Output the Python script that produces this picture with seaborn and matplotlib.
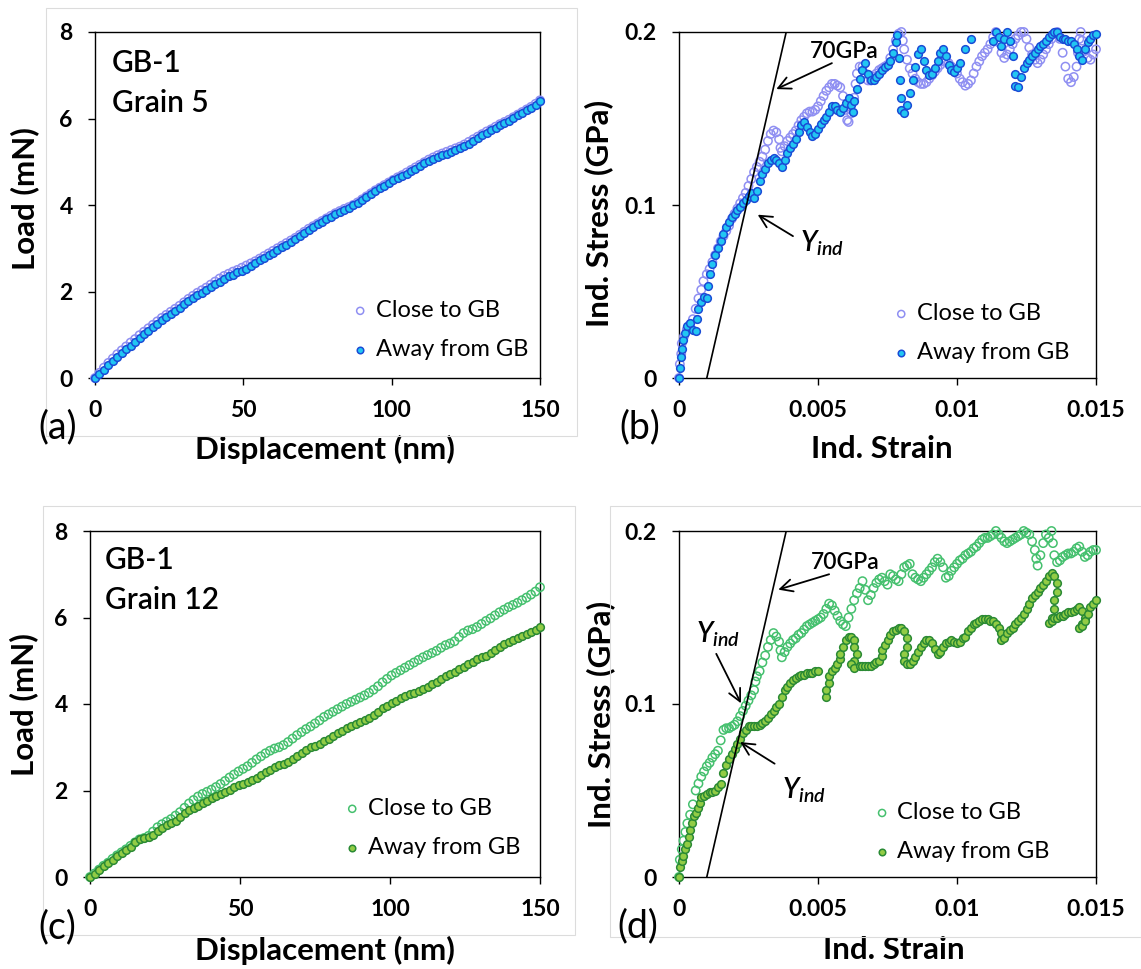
import matplotlib
matplotlib.use("Agg")
import matplotlib.pyplot as plt
import seaborn as sns
from matplotlib.patches import Rectangle

# ---------------- data ----------------
disp = [0, 1.5, 3, 4.5, 6, 7.5, 9, 10.5, 12, 13.5,
        15, 16.5, 18, 19.5, 21, 22.5, 24, 25.5, 27, 28.5,
        30, 31.5, 33, 34.5, 36, 37.5, 39, 40.5, 42, 43.5,
        45, 46.5, 48, 49.5, 51, 52.5, 54, 55.5, 57, 58.5,
        60, 61.5, 63, 64.5, 66, 67.5, 69, 70.5, 72, 73.5,
        75, 76.5, 78, 79.5, 81, 82.5, 84, 85.5, 87, 88.5,
        90, 91.5, 93, 94.5, 96, 97.5, 99, 100.5, 102, 103.5,
        105, 106.5, 108, 109.5, 111, 112.5, 114, 115.5, 117, 118.5,
        120, 121.5, 123, 124.5, 126, 127.5, 129, 130.5, 132, 133.5,
        135, 136.5, 138, 139.5, 141, 142.5, 144, 145.5, 147, 148.5,
        150]

load_a_close = [0.00, 0.12, 0.24, 0.35, 0.45, 0.55, 0.64, 0.73, 0.82, 0.90,
                0.99, 1.07, 1.15, 1.23, 1.31, 1.39, 1.46, 1.53, 1.60, 1.67,
                1.75, 1.83, 1.90, 1.97, 2.03, 2.09, 2.16, 2.23, 2.30, 2.36,
                2.41, 2.46, 2.50, 2.55, 2.60, 2.65, 2.70, 2.76, 2.82, 2.88,
                2.94, 3.00, 3.06, 3.12, 3.18, 3.24, 3.31, 3.38, 3.45, 3.51,
                3.57, 3.63, 3.69, 3.75, 3.81, 3.86, 3.91, 3.95, 4.00, 4.06,
                4.13, 4.20, 4.27, 4.34, 4.40, 4.46, 4.52, 4.58, 4.64, 4.69,
                4.75, 4.81, 4.87, 4.93, 4.99, 5.05, 5.10, 5.15, 5.19, 5.23,
                5.27, 5.31, 5.35, 5.40, 5.46, 5.52, 5.58, 5.64, 5.70, 5.75,
                5.81, 5.87, 5.92, 5.97, 6.03, 6.09, 6.15, 6.21, 6.27, 6.34,
                6.42]
load_a_away = [0.00, 0.09, 0.19, 0.29, 0.39, 0.48, 0.58, 0.67, 0.75, 0.84,
               0.93, 1.01, 1.09, 1.17, 1.25, 1.33, 1.41, 1.48, 1.55, 1.62,
               1.70, 1.77, 1.84, 1.91, 1.97, 2.04, 2.10, 2.17, 2.23, 2.29,
               2.35, 2.39, 2.44, 2.48, 2.53, 2.58, 2.65, 2.72, 2.78, 2.84,
               2.90, 2.96, 3.02, 3.08, 3.15, 3.21, 3.28, 3.35, 3.42, 3.49,
               3.55, 3.61, 3.67, 3.73, 3.79, 3.84, 3.89, 3.94, 3.99, 4.05,
               4.12, 4.19, 4.26, 4.33, 4.39, 4.45, 4.51, 4.57, 4.62, 4.67,
               4.72, 4.78, 4.84, 4.90, 4.96, 5.01, 5.06, 5.11, 5.15, 5.19,
               5.23, 5.27, 5.31, 5.36, 5.42, 5.48, 5.55, 5.61, 5.67, 5.73,
               5.79, 5.85, 5.90, 5.95, 6.01, 6.07, 6.13, 6.19, 6.25, 6.32,
               6.40]
load_c_close = [0.00, 0.08, 0.17, 0.26, 0.33, 0.42, 0.50, 0.57, 0.64, 0.72,
                0.80, 0.87, 0.90, 0.95, 1.05, 1.15, 1.22, 1.28, 1.34, 1.42,
                1.50, 1.60, 1.70, 1.78, 1.86, 1.92, 1.97, 2.02, 2.08, 2.15,
                2.22, 2.30, 2.37, 2.44, 2.50, 2.56, 2.64, 2.72, 2.79, 2.86,
                2.92, 2.97, 3.00, 3.05, 3.12, 3.20, 3.28, 3.35, 3.42, 3.48,
                3.55, 3.62, 3.70, 3.76, 3.82, 3.88, 3.94, 4.00, 4.05, 4.10,
                4.15, 4.20, 4.26, 4.33, 4.41, 4.50, 4.58, 4.66, 4.72, 4.78,
                4.84, 4.90, 4.96, 5.02, 5.08, 5.13, 5.18, 5.23, 5.30, 5.36,
                5.40, 5.45, 5.55, 5.64, 5.70, 5.73, 5.78, 5.85, 5.92, 5.98,
                6.05, 6.12, 6.18, 6.24, 6.29, 6.34, 6.40, 6.46, 6.53, 6.60,
                6.70]
load_c_away = [0.00, 0.08, 0.17, 0.25, 0.33, 0.40, 0.48, 0.55, 0.62, 0.70,
               0.80, 0.87, 0.90, 0.93, 0.98, 1.06, 1.13, 1.20, 1.25, 1.30,
               1.38, 1.47, 1.55, 1.60, 1.64, 1.70, 1.76, 1.82, 1.87, 1.92,
               1.96, 2.02, 2.07, 2.12, 2.16, 2.20, 2.25, 2.30, 2.36, 2.42,
               2.48, 2.54, 2.58, 2.62, 2.66, 2.72, 2.80, 2.87, 2.94, 3.00,
               3.04, 3.08, 3.14, 3.20, 3.26, 3.32, 3.38, 3.44, 3.50, 3.54,
               3.58, 3.62, 3.68, 3.75, 3.82, 3.90, 3.96, 4.02, 4.08, 4.13,
               4.18, 4.22, 4.26, 4.30, 4.35, 4.40, 4.46, 4.52, 4.58, 4.64,
               4.70, 4.75, 4.80, 4.86, 4.92, 4.98, 5.04, 5.08, 5.12, 5.18,
               5.25, 5.32, 5.38, 5.43, 5.48, 5.52, 5.57, 5.62, 5.67, 5.72,
               5.77]

strain_b_close = [0, 0.00003, 0.00008, 0.0001, 0.00018, 0.00028, 0.0004, 0.0005, 0.0006, 0.0007,
                  0.0008, 0.00088, 0.001, 0.0011, 0.0012, 0.0013, 0.0014, 0.0015, 0.0016, 0.0017,
                  0.0018, 0.0019, 0.002, 0.0021, 0.0022, 0.0023, 0.0024, 0.0025, 0.0026, 0.0027,
                  0.0028, 0.0029, 0.003, 0.0031, 0.0032, 0.0033, 0.0034, 0.0035, 0.0036, 0.00365,
                  0.0037, 0.0038, 0.0039, 0.004, 0.0041, 0.0042, 0.0043, 0.0044, 0.0045, 0.0046,
                  0.0047, 0.0048, 0.0049, 0.005, 0.0051, 0.0052, 0.0053, 0.0054, 0.0055, 0.0056,
                  0.0057, 0.0058, 0.0059, 0.006, 0.00605, 0.0061, 0.0062, 0.0063, 0.00635, 0.0064,
                  0.0065, 0.0066, 0.0067, 0.0068, 0.0069, 0.007, 0.0071, 0.0072, 0.0073, 0.0074,
                  0.0075, 0.0076, 0.0077, 0.0078, 0.0079, 0.008, 0.00805, 0.0081, 0.0082, 0.0083,
                  0.0084, 0.0085, 0.0086, 0.0087, 0.0088, 0.0089, 0.009, 0.0091, 0.0092, 0.0093,
                  0.0094, 0.0095, 0.0096, 0.0097, 0.0098, 0.0099, 0.01, 0.0101, 0.0102, 0.0103,
                  0.0104, 0.0105, 0.0106, 0.0107, 0.0108, 0.0109, 0.011, 0.0111, 0.0112, 0.0113,
                  0.0114, 0.0115, 0.0116, 0.0117, 0.0118, 0.0119, 0.012, 0.0121, 0.0122, 0.0123,
                  0.0124, 0.0125, 0.0126, 0.0127, 0.0128, 0.0129, 0.013, 0.0131, 0.0132, 0.0133,
                  0.0134, 0.0135, 0.0136, 0.0137, 0.0138, 0.0139, 0.014, 0.0141, 0.0142, 0.0143,
                  0.01435, 0.0144, 0.01445, 0.0145, 0.0146, 0.0147, 0.0148, 0.0149, 0.015]
stress_b_close = [0, 0.008, 0.014, 0.02, 0.024, 0.028, 0.031, 0.034, 0.04, 0.046,
                  0.051, 0.056, 0.06, 0.063, 0.067, 0.071, 0.075, 0.079, 0.082, 0.085,
                  0.088, 0.092, 0.095, 0.098, 0.101, 0.104, 0.107, 0.111, 0.115, 0.119,
                  0.122, 0.125, 0.128, 0.132, 0.137, 0.141, 0.143, 0.142, 0.138, 0.133,
                  0.131, 0.134, 0.137, 0.139, 0.141, 0.143, 0.146, 0.149, 0.151, 0.153,
                  0.154, 0.154, 0.155, 0.157, 0.16, 0.163, 0.166, 0.168, 0.17, 0.17,
                  0.169, 0.168, 0.163, 0.155, 0.149, 0.148, 0.153, 0.162, 0.17, 0.176,
                  0.18, 0.18, 0.176, 0.172, 0.172, 0.174, 0.176, 0.178, 0.179, 0.18,
                  0.181, 0.185, 0.19, 0.195, 0.199, 0.2, 0.195, 0.19, 0.184, 0.179,
                  0.176, 0.173, 0.171, 0.17, 0.17, 0.171, 0.173, 0.175, 0.177, 0.179,
                  0.181, 0.183, 0.183, 0.182, 0.18, 0.178, 0.176, 0.173, 0.171, 0.169,
                  0.17, 0.172, 0.176, 0.18, 0.183, 0.186, 0.188, 0.19, 0.193, 0.197,
                  0.2, 0.194, 0.188, 0.185, 0.187, 0.19, 0.193, 0.196, 0.198, 0.2,
                  0.2, 0.196, 0.191, 0.187, 0.184, 0.182, 0.184, 0.187, 0.19, 0.193,
                  0.196, 0.199, 0.2, 0.196, 0.188, 0.18, 0.173, 0.171, 0.174, 0.18,
                  0.188, 0.196, 0.2, 0.195, 0.189, 0.185, 0.184, 0.187, 0.19]

strain_b_away = [0, 0.00003, 0.00006, 0.0001, 0.00015, 0.00022, 0.0003, 0.0004, 0.0005, 0.0006,
                 0.00065, 0.0007, 0.0008, 0.0009, 0.001, 0.00105, 0.0011, 0.0012, 0.0013, 0.0014,
                 0.0015, 0.0016, 0.0017, 0.0018, 0.0019, 0.002, 0.0021, 0.0022, 0.0023, 0.0024,
                 0.0025, 0.0026, 0.0027, 0.0028, 0.0029, 0.003, 0.0031, 0.0032, 0.0033, 0.0034,
                 0.0035, 0.0036, 0.0037, 0.0038, 0.0039, 0.004, 0.0041, 0.0042, 0.0043, 0.0044,
                 0.0045, 0.0046, 0.0047, 0.0048, 0.0049, 0.005, 0.0051, 0.0052, 0.0053, 0.0054,
                 0.0055, 0.0056, 0.0057, 0.0058, 0.0059, 0.006, 0.0061, 0.0062, 0.00625, 0.0063,
                 0.0064, 0.0065, 0.0066, 0.0067, 0.0068, 0.0069, 0.007, 0.0071, 0.0072, 0.0073,
                 0.0074, 0.0075, 0.0076, 0.0077, 0.0078, 0.00785, 0.0079, 0.00795, 0.008, 0.0080,
                 0.0081, 0.0082, 0.0083, 0.0084, 0.0085, 0.0086, 0.0087, 0.0088, 0.0089, 0.009,
                 0.0091, 0.0092, 0.0093, 0.0094, 0.0095, 0.0096, 0.0097, 0.0098, 0.0099, 0.01,
                 0.0101, 0.0103, 0.0105, 0.0113, 0.0114, 0.0115, 0.0116, 0.0117, 0.0118, 0.0119,
                 0.012, 0.0121, 0.0121, 0.0122, 0.0123, 0.0124, 0.0125, 0.0126, 0.0127, 0.0128,
                 0.0129, 0.013, 0.0131, 0.0132, 0.0133, 0.0134, 0.0135, 0.0136, 0.0137, 0.0138,
                 0.0139, 0.014, 0.0141, 0.0142, 0.0143, 0.0144, 0.0145, 0.0146, 0.0147, 0.0148,
                 0.0149, 0.015]
stress_b_away = [0, 0.006, 0.012, 0.017, 0.022, 0.026, 0.03, 0.032, 0.028, 0.027,
                 0.034, 0.04, 0.044, 0.047, 0.046, 0.053, 0.06, 0.066, 0.071, 0.075,
                 0.079, 0.083, 0.087, 0.09, 0.093, 0.095, 0.097, 0.099, 0.101, 0.103,
                 0.105, 0.107, 0.104, 0.108, 0.114, 0.118, 0.121, 0.124, 0.126, 0.127,
                 0.126, 0.124, 0.122, 0.126, 0.13, 0.133, 0.135, 0.138, 0.142, 0.146,
                 0.148, 0.145, 0.142, 0.14, 0.141, 0.144, 0.147, 0.149, 0.151, 0.154,
                 0.157, 0.157, 0.155, 0.154, 0.156, 0.159, 0.162, 0.158, 0.154, 0.16,
                 0.167, 0.173, 0.178, 0.182, 0.176, 0.172, 0.172, 0.174, 0.176, 0.178,
                 0.18, 0.181, 0.183, 0.188, 0.194, 0.198, 0.185, 0.172, 0.162, 0.155,
                 0.153, 0.158, 0.165, 0.172, 0.18, 0.187, 0.19, 0.183, 0.178, 0.175,
                 0.176, 0.179, 0.183, 0.188, 0.19, 0.186, 0.181, 0.178, 0.177, 0.179,
                 0.182, 0.19, 0.196, 0.195, 0.2, 0.197, 0.192, 0.196, 0.2, 0.195,
                 0.186, 0.176, 0.169, 0.168, 0.174, 0.179, 0.182, 0.184, 0.186, 0.188,
                 0.19, 0.192, 0.193, 0.195, 0.197, 0.199, 0.2, 0.2, 0.197, 0.196,
                 0.196, 0.195, 0.195, 0.193, 0.19, 0.186, 0.184, 0.19, 0.194, 0.196,
                 0.198, 0.199]

strain_d_close = [0, 0.00003, 0.0001, 0.00016, 0.00023, 0.0003, 0.0004, 0.0005, 0.0006, 0.0007,
                  0.0008, 0.0009, 0.001, 0.0011, 0.0012, 0.0013, 0.0014, 0.0015, 0.0016, 0.0017,
                  0.0018, 0.0019, 0.002, 0.0021, 0.0022, 0.0023, 0.0024, 0.0025, 0.0026, 0.0027,
                  0.00275, 0.0028, 0.0029, 0.003, 0.0031, 0.0032, 0.0033, 0.0034, 0.0035, 0.0036,
                  0.00365, 0.0037, 0.0038, 0.0039, 0.004, 0.0041, 0.0042, 0.0043, 0.0044, 0.0045,
                  0.0046, 0.0047, 0.0048, 0.0049, 0.005, 0.0051, 0.0052, 0.0053, 0.0054, 0.0055,
                  0.0056, 0.0057, 0.0058, 0.0059, 0.006, 0.0061, 0.0062, 0.0063, 0.0064, 0.0065,
                  0.0066, 0.0067, 0.0068, 0.0069, 0.007, 0.0071, 0.0072, 0.0073, 0.0074, 0.0075,
                  0.0076, 0.0077, 0.0078, 0.0079, 0.008, 0.0081, 0.0082, 0.0083, 0.0084, 0.0085,
                  0.0086, 0.0087, 0.0088, 0.0089, 0.009, 0.0091, 0.0092, 0.0093, 0.0094, 0.0095,
                  0.0096, 0.0097, 0.0098, 0.0099, 0.01, 0.0101, 0.0102, 0.0103, 0.0104, 0.0105,
                  0.0106, 0.0107, 0.0108, 0.0109, 0.011, 0.0111, 0.0112, 0.0113, 0.0114, 0.0115,
                  0.0116, 0.0117, 0.0118, 0.0119, 0.012, 0.0121, 0.0122, 0.0123, 0.0124, 0.0125,
                  0.0126, 0.0127, 0.0128, 0.01285, 0.0129, 0.013, 0.0131, 0.0132, 0.0133, 0.0134,
                  0.01345, 0.0135, 0.0136, 0.0137, 0.0138, 0.0139, 0.014, 0.0141, 0.0142, 0.0143,
                  0.0144, 0.0145, 0.0146, 0.0147, 0.0148, 0.0149, 0.015]
stress_d_close = [0, 0.01, 0.016, 0.021, 0.026, 0.031, 0.036, 0.042, 0.05, 0.054,
                  0.058, 0.061, 0.064, 0.066, 0.069, 0.071, 0.073, 0.079, 0.085, 0.086,
                  0.086, 0.087, 0.088, 0.09, 0.093, 0.096, 0.099, 0.102, 0.105, 0.108,
                  0.113, 0.116, 0.119, 0.124, 0.128, 0.133, 0.137, 0.141, 0.139, 0.136,
                  0.131, 0.127, 0.13, 0.133, 0.135, 0.137, 0.138, 0.14, 0.141, 0.143,
                  0.145, 0.146, 0.147, 0.148, 0.149, 0.15, 0.152, 0.155, 0.158, 0.157,
                  0.154, 0.151, 0.148, 0.146, 0.145, 0.15, 0.155, 0.16, 0.164, 0.167,
                  0.171, 0.166, 0.16, 0.163, 0.167, 0.17, 0.172, 0.173, 0.171, 0.169,
                  0.175, 0.174, 0.172, 0.171, 0.175, 0.179, 0.18, 0.181, 0.175, 0.173,
                  0.172, 0.171, 0.173, 0.175, 0.177, 0.179, 0.182, 0.184, 0.182, 0.179,
                  0.173, 0.174, 0.177, 0.179, 0.181, 0.183, 0.184, 0.186, 0.187, 0.188,
                  0.19, 0.191, 0.193, 0.195, 0.196, 0.196, 0.197, 0.198, 0.2, 0.198,
                  0.196, 0.194, 0.193, 0.194, 0.195, 0.196, 0.197, 0.198, 0.2, 0.199,
                  0.198, 0.194, 0.189, 0.184, 0.18, 0.186, 0.193, 0.198, 0.196, 0.2,
                  0.193, 0.186, 0.182, 0.183, 0.185, 0.186, 0.187, 0.187, 0.188, 0.19,
                  0.191, 0.188, 0.185, 0.186, 0.188, 0.189, 0.189]

strain_d_away = [0, 0.00003, 0.0001, 0.00016, 0.00023, 0.0003, 0.00035, 0.0004, 0.00048, 0.00055,
                 0.0006, 0.0007, 0.00075, 0.0008, 0.0009, 0.001, 0.0011, 0.0012, 0.0013, 0.0014,
                 0.0015, 0.0016, 0.0017, 0.0018, 0.0019, 0.002, 0.0021, 0.0022, 0.0023, 0.0024,
                 0.0025, 0.0026, 0.0027, 0.0028, 0.0029, 0.003, 0.0031, 0.0032, 0.0033, 0.0034,
                 0.0035, 0.0036, 0.0037, 0.0038, 0.0039, 0.004, 0.0041, 0.0042, 0.0043, 0.0044,
                 0.0045, 0.0046, 0.0047, 0.0048, 0.0049, 0.005,
                 0.0053, 0.0053, 0.0054, 0.0054, 0.0055, 0.0056, 0.0057, 0.0058, 0.0058, 0.0059,
                 0.006, 0.0061, 0.0062, 0.0063, 0.0063, 0.0064, 0.0063, 0.0062, 0.0063, 0.0065,
                 0.0066, 0.0067, 0.0068, 0.0069, 0.007, 0.0071, 0.0072, 0.0073, 0.0073, 0.0074,
                 0.0075, 0.0076, 0.0077, 0.0078, 0.0079, 0.008, 0.0081, 0.0082, 0.0082, 0.0081,
                 0.0081, 0.0082, 0.0083, 0.0084, 0.0085, 0.0086, 0.0087, 0.0088, 0.0089, 0.009,
                 0.0091, 0.0092, 0.0093, 0.0094, 0.0095, 0.0096, 0.0097, 0.0098, 0.0099, 0.01,
                 0.0101, 0.0102, 0.0103, 0.0104, 0.0105, 0.0106, 0.0107, 0.0108, 0.0109, 0.011,
                 0.0111, 0.0112, 0.0113, 0.0114, 0.0115, 0.0116, 0.0116, 0.0117, 0.0118, 0.0119,
                 0.012, 0.0121, 0.0122, 0.0123, 0.0124, 0.0125, 0.0126, 0.0127, 0.0128, 0.0129,
                 0.013, 0.0131, 0.0132, 0.0133, 0.0134, 0.0135, 0.0136, 0.0136, 0.0135, 0.0135,
                 0.0134, 0.0133, 0.0134, 0.0135, 0.0136, 0.0137, 0.0138, 0.0139, 0.014, 0.0141,
                 0.0142, 0.0143, 0.0144, 0.0145, 0.0146, 0.0145, 0.0144, 0.0145, 0.0146, 0.0147,
                 0.0148, 0.0149, 0.015]
stress_d_away = [0, 0.006, 0.009, 0.012, 0.016, 0.019, 0.023, 0.027, 0.031, 0.035,
                 0.037, 0.04, 0.043, 0.046, 0.047, 0.048, 0.049, 0.049, 0.05, 0.052,
                 0.054, 0.06, 0.065, 0.068, 0.071, 0.074, 0.077, 0.08, 0.083, 0.085,
                 0.087, 0.087, 0.087, 0.087, 0.088, 0.089, 0.09, 0.092, 0.094, 0.096,
                 0.098, 0.1, 0.104, 0.108, 0.11, 0.112, 0.114, 0.115, 0.116, 0.117,
                 0.117, 0.118, 0.118, 0.118, 0.119, 0.119,
                 0.104, 0.108, 0.112, 0.116, 0.119, 0.121, 0.123, 0.126, 0.129, 0.133,
                 0.137, 0.139, 0.139, 0.137, 0.133, 0.129, 0.125, 0.123, 0.121, 0.122,
                 0.122, 0.122, 0.122, 0.122, 0.123, 0.124, 0.125, 0.128, 0.131, 0.134,
                 0.137, 0.14, 0.142, 0.143, 0.144, 0.144, 0.142, 0.138, 0.133, 0.129,
                 0.125, 0.123, 0.123, 0.125, 0.127, 0.13, 0.133, 0.135, 0.137, 0.137,
                 0.135, 0.132, 0.129, 0.13, 0.133, 0.135, 0.136, 0.137, 0.136, 0.135,
                 0.136, 0.138, 0.139, 0.142, 0.144, 0.146, 0.147, 0.148, 0.149, 0.149,
                 0.149, 0.148, 0.148, 0.146, 0.144, 0.141, 0.137, 0.138, 0.141, 0.143,
                 0.144, 0.146, 0.148, 0.15, 0.152, 0.155, 0.158, 0.161, 0.163, 0.165,
                 0.167, 0.169, 0.171, 0.174, 0.176, 0.174, 0.17, 0.165, 0.16, 0.155,
                 0.15, 0.147, 0.148, 0.15, 0.15, 0.151, 0.151, 0.152, 0.153, 0.153,
                 0.154, 0.155, 0.156, 0.154, 0.15, 0.146, 0.144, 0.145, 0.148, 0.152,
                 0.156, 0.158, 0.16]

# elastic reference line (modulus in GPa, strain offset)
modulus_GPa = 70
line_offset = 0.001

series_labels = ["Close to GB", "Away from GB"]
load_ticks = [0, 2, 4, 6, 8]
load_ticklabels = ["0", "2", "4", "6", "8"]
disp_ticks = [0, 50, 100, 150]
disp_ticklabels = ["0", "50", "100", "150"]
strain_ticks = [0, 0.005, 0.01, 0.015]
strain_ticklabels = ["0", "0.005", "0.01", "0.015"]
stress_ticks = [0, 0.1, 0.2]
stress_ticklabels = ["0", "0.1", "0.2"]

# ---------------- style ----------------
sns.set_theme(style="white")
plt.rcParams["font.family"] = ["Lato", "DejaVu Sans"]
plt.rcParams["text.color"] = "black"
plt.rcParams["axes.labelcolor"] = "black"
plt.rcParams["mathtext.fontset"] = "custom"
plt.rcParams["mathtext.it"] = "Lato:italic:semibold"
plt.rcParams["mathtext.rm"] = "Lato"
plt.rcParams["mathtext.bf"] = "Lato:bold"

W, H = 1141, 969
fig = plt.figure(figsize=(W / 100, H / 100), dpi=100, facecolor="white")

# faint panel frames
for (l, t, r, b) in [(46, 8, 577, 436), (43, 506, 575, 935), (610, 506, 1141, 937)]:
    fig.patches.append(Rectangle((l / W, 1 - b / H), (r - l) / W, (b - t) / H,
                                 transform=fig.transFigure, fill=False,
                                 edgecolor="#dcdcdc", linewidth=0.8))


def add_ax(l, t, r, b):
    return fig.add_axes([l / W, 1 - b / H, (r - l) / W, (b - t) / H])


ax_a = add_ax(95, 32, 540, 378)
ax_b = add_ax(679, 32, 1096, 378)
ax_c = add_ax(90, 531, 540, 877)
ax_d = add_ax(679, 531, 1096, 877)

blue_close = "#8f8ff2"
blue_face = "#22c6f2"
blue_edge = "#1a4bd6"
green_close = "#45c06e"
green_face = "#92cc45"
green_edge = "#2a8a34"


def scatter_pair(ax, x1, y1, x2, y2, c_close, f_away, e_away, s):
    sns.scatterplot(x=x1, y=y1, ax=ax, marker="o", s=s, color=c_close,
                    facecolor="none", edgecolor=c_close, linewidth=1.1,
                    label=series_labels[0], clip_on=False, zorder=3)
    sns.scatterplot(x=x2, y=y2, ax=ax, marker="o", s=s * 0.85, color=f_away,
                    facecolor=f_away, edgecolor=e_away, linewidth=1.1,
                    label=series_labels[1], clip_on=False, zorder=4)


scatter_pair(ax_a, disp, load_a_close, disp, load_a_away, blue_close, blue_face, blue_edge, 36)
scatter_pair(ax_b, strain_b_close, stress_b_close, strain_b_away, stress_b_away,
             blue_close, blue_face, blue_edge, 36)
scatter_pair(ax_c, disp, load_c_close, disp, load_c_away, green_close, green_face, green_edge, 36)
scatter_pair(ax_d, strain_d_close, stress_d_close, strain_d_away, stress_d_away,
             green_close, green_face, green_edge, 36)

# elastic 70 GPa lines
for ax in (ax_b, ax_d):
    ax.plot([line_offset, line_offset + 0.2 / modulus_GPa], [0, 0.2],
            color="black", linewidth=1.2, zorder=5)


def style_axis(ax, xt, xtl, yt, ytl, xlim, ylim, xlabel, ylabel, xl_pos, yl_pos, leg_pos):
    ax.set_xlim(*xlim)
    ax.set_ylim(*ylim)
    ax.set_xticks(xt)
    ax.set_xticklabels(xtl, fontweight="bold")
    ax.set_yticks(yt)
    ax.set_yticklabels(ytl, fontweight="bold")
    ax.tick_params(axis="both", which="both", direction="out", length=5, width=1.0,
                   color="black", labelcolor="black", labelsize=16.5, pad=11,
                   bottom=True, left=True, top=False, right=False)
    for sp in ax.spines.values():
        sp.set_visible(True)
        sp.set_color("black")
        sp.set_linewidth(1.0)
    ax.set_xlabel(xlabel, fontsize=22.5, fontweight="bold", color="black")
    ax.set_ylabel(ylabel, fontsize=22.5, fontweight="bold", color="black")
    ax.xaxis.set_label_coords(*xl_pos)
    ax.yaxis.set_label_coords(*yl_pos)
    ax.grid(False)
    leg = ax.legend(loc="center left", bbox_to_anchor=leg_pos, frameon=False,
                    fontsize=17, handlelength=0.6, handletextpad=0.35,
                    labelspacing=0.75, borderpad=0, borderaxespad=0,
                    markerscale=0.85)
    for t in leg.get_texts():
        t.set_color("black")


style_axis(ax_a, disp_ticks, disp_ticklabels, load_ticks, load_ticklabels,
           (0, 150), (0, 8), "Displacement (nm)", "Load (mN)",
           (0.517, -0.165), (-0.125, 0.52), (0.58, 0.139))
style_axis(ax_b, strain_ticks, strain_ticklabels, stress_ticks, stress_ticklabels,
           (0, 0.015), (0, 0.2), "Ind. Strain", "Ind. Stress (GPa)",
           (0.487, -0.165), (-0.158, 0.477), (0.516, 0.130))
style_axis(ax_c, disp_ticks, disp_ticklabels, load_ticks, load_ticklabels,
           (0, 150), (0, 8), "Displacement (nm)", "Load (mN)",
           (0.522, -0.17), (-0.115, 0.497), (0.567, 0.142))
style_axis(ax_d, strain_ticks, strain_ticklabels, stress_ticks, stress_ticklabels,
           (0, 0.015), (0, 0.2), "Ind. Strain", "Ind. Stress (GPa)",
           (0.516, -0.17), (-0.153, 0.471), (0.47, 0.130))

# sample annotations
for ax, (x0, y1, y2), grain in [(ax_a, (0.038, 0.91, 0.795), "Grain 5"),
                                (ax_c, (0.033, 0.916, 0.80), "Grain 12")]:
    ax.text(x0, y1, "GB-1", transform=ax.transAxes, fontsize=21.5, fontweight="semibold",
            ha="left", va="center")
    ax.text(x0, y2, grain, transform=ax.transAxes, fontsize=21.5, fontweight="semibold",
            ha="left", va="center")

arrow_kw = dict(arrowstyle="->", color="black", lw=1.3, shrinkA=0, shrinkB=0,
                mutation_scale=22)

# panel (b)
ax_b.text(0.00595, 0.189, "70GPa", fontsize=16.5, fontweight="semibold",
          ha="center", va="center", zorder=6)
ax_b.annotate("", xy=(0.0035, 0.167), xytext=(0.0055, 0.182), arrowprops=arrow_kw, zorder=6)
ax_b.text(0.00434, 0.078, r"$Y_{ind}$", fontsize=20, ha="left", va="center", zorder=6)
ax_b.annotate("", xy=(0.00283, 0.0944), xytext=(0.0041, 0.082), arrowprops=arrow_kw, zorder=6)

# panel (d)
ax_d.text(0.00597, 0.1818, "70GPa", fontsize=16.5, fontweight="semibold",
          ha="center", va="center", zorder=6)
ax_d.annotate("", xy=(0.00357, 0.1661), xytext=(0.0054, 0.175), arrowprops=arrow_kw, zorder=6)
ax_d.text(0.00062, 0.1406, r"$Y_{ind}$", fontsize=20, ha="left", va="center", zorder=6)
ax_d.annotate("", xy=(0.00223, 0.1004), xytext=(0.00134, 0.129), arrowprops=arrow_kw, zorder=6)
ax_d.text(0.00371, 0.05, r"$Y_{ind}$", fontsize=20, ha="left", va="center", zorder=6)
ax_d.annotate("", xy=(0.0022, 0.078), xytext=(0.00344, 0.0655), arrowprops=arrow_kw, zorder=6)

# panel letters
for txt, x, y in [("(a)", 38, 427), ("(b)", 619, 427), ("(c)", 38, 927), ("(d)", 617, 926)]:
    fig.text(x / W, 1 - y / H, txt, fontsize=27, ha="left", va="center", color="black")

fig.savefig("out.png", dpi=100, facecolor="white")
